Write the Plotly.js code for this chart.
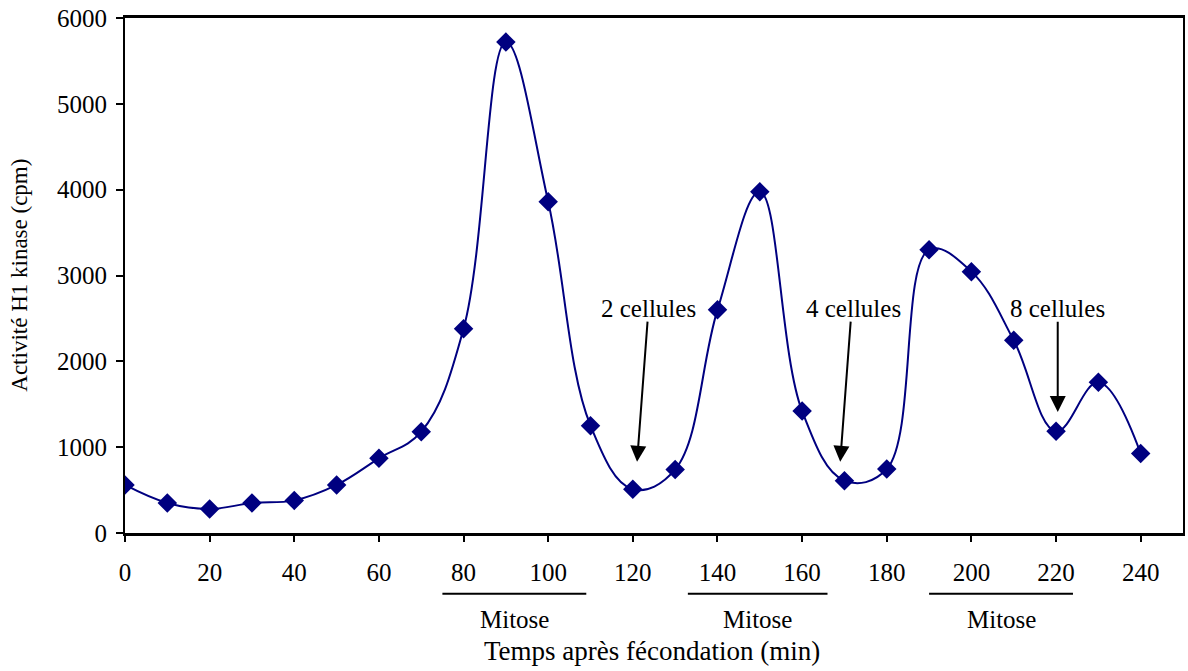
<!DOCTYPE html>
<html>
<head>
<meta charset="utf-8">
<script src="https://cdn.plot.ly/plotly-3.0.1.min.js"></script>
<style>html,body{margin:0;padding:0;background:#fff;}#chart{width:1188px;height:671px;}</style>
</head>
<body>
<div id="chart"></div>
<script>
const temps = [0,10,20,30,40,50,60,70,80,90,100,110,120,130,140,150,160,170,180,190,200,210,220,230,240];
const activite = [560,350,280,350,380,560,870,1180,2380,5720,3860,1250,510,740,2600,3975,1420,610,745,3300,3045,2245,1185,1755,925];

const stadeLabels = ["2 cellules","4 cellules","8 cellules"];
const stadeTip = [[121,830],[169,830],[220.4,1410]];
const stadeTail = [[123.5,2480],[171.5,2480],[220.4,2480]];
const stadeText = [[123.8,2620],[172.2,2620],[220.4,2620]];

const mitoseStart = [75,133,190];
const mitoseEnd = [109,166,224];

const xTitle = 'Temps après fécondation (min)';
const yTitle = 'Activité H1 kinase (cpm)';

const FONT = "Liberation Serif, Times New Roman, serif";
const annotations = [];
stadeLabels.forEach((lab,i)=>{
  annotations.push({x:stadeText[i][0], y:stadeText[i][1], xref:'x', yref:'y', text:lab, showarrow:false,
    font:{family:FONT,size:25,color:'#000'}});
  annotations.push({x:stadeTip[i][0], y:stadeTip[i][1], ax:stadeTail[i][0], ay:stadeTail[i][1],
    xref:'x', yref:'y', axref:'x', ayref:'y', text:'', showarrow:true,
    arrowhead:2, arrowsize:1.6, arrowwidth:2, arrowcolor:'#000', standoff:0, startstandoff:0});
});
const shapes = [];
mitoseStart.forEach((s,i)=>{
  shapes.push({type:'line', xref:'x', yref:'paper', x0:s, x1:mitoseEnd[i], y0:-0.118, y1:-0.118,
    line:{color:'#000', width:2}});
  annotations.push({x:(s+mitoseEnd[i])/2, y:-0.167, xref:'x', yref:'paper', text:'Mitose', showarrow:false,
    font:{family:FONT,size:25,color:'#000'}, yanchor:'middle'});
});
annotations.push({x:124.5, y:-0.229, xref:'x', yref:'paper', text:xTitle, showarrow:false,
  font:{family:FONT,size:27,color:'#000'}, yanchor:'middle'});
annotations.push({x:-0.1, y:0.5, xref:'paper', yref:'paper', text:yTitle, showarrow:false, textangle:-90,
  font:{family:FONT,size:23,color:'#000'}, xanchor:'center', yanchor:'middle'});

const trace = {
  x: temps, y: activite, type:'scatter', mode:'lines+markers',
  line:{color:'#000080', width:2, shape:'spline', smoothing:1.1},
  marker:{symbol:'diamond', size:15, color:'#000080'}
};

const layout = {
  width:1188, height:671,
  margin:{l:125, r:5, t:18, b:138},
  paper_bgcolor:'#fff', plot_bgcolor:'#fff',
  showlegend:false,
  font:{family:FONT, size:25, color:'#000'},
  xaxis:{range:[0,250], tickvals:[0,20,40,60,80,100,120,140,160,180,200,220,240],
    ticks:'outside', ticklen:6, tickwidth:2, tickcolor:'#000', ticklabelstandoff:9,
    showline:true, linecolor:'#000', linewidth:3, mirror:true, showgrid:false, zeroline:false,
    tickfont:{family:FONT,size:25}},
  yaxis:{range:[0,6000], dtick:1000, ticks:'outside', ticklen:7, tickwidth:2, tickcolor:'#000', ticklabelstandoff:4,
    showline:true, linecolor:'#000', linewidth:2, mirror:true, showgrid:false, zeroline:false,
    tickfont:{family:FONT,size:25}},
  annotations: annotations,
  shapes: shapes
};
Plotly.newPlot('chart',[trace],layout,{displayModeBar:false, staticPlot:true});
</script>
</body>
</html>
